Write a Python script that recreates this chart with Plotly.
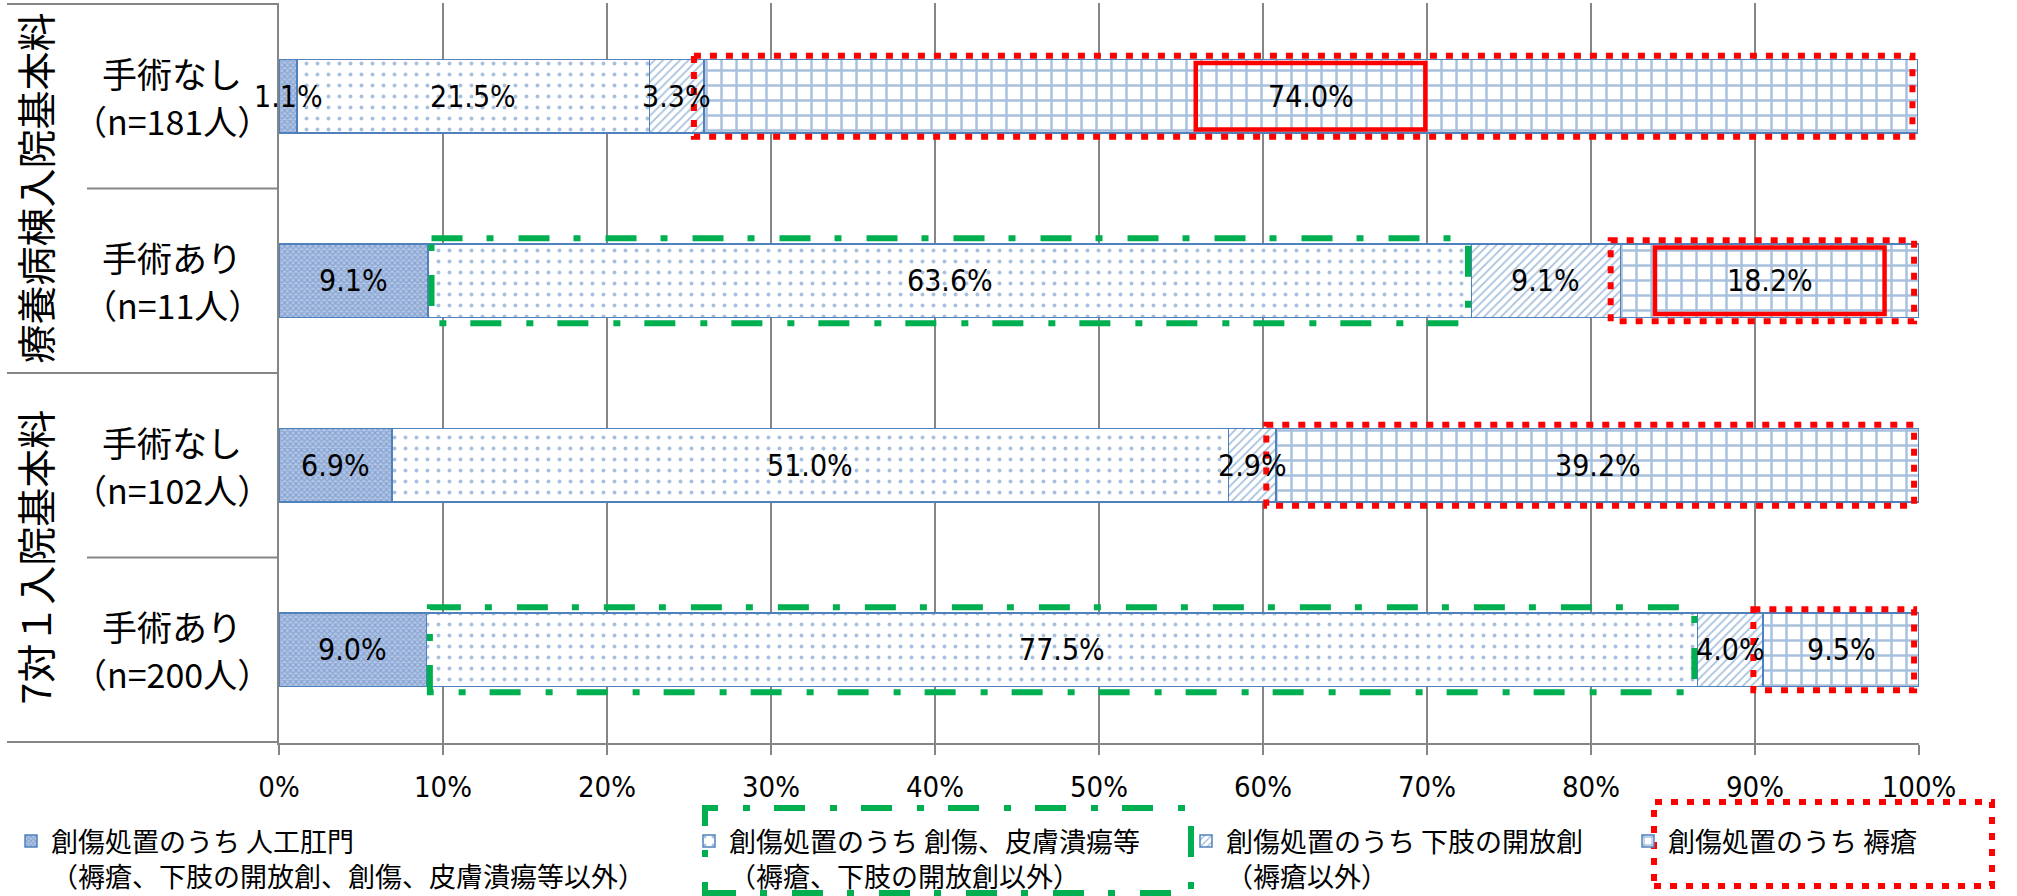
import plotly.graph_objects as go

# ---------------- data ----------------
groups = ["療養病棟入院基本料", "療養病棟入院基本料", "7対１入院基本料", "7対１入院基本料"]
surgery = ["手術なし", "手術あり", "手術なし", "手術あり"]
n_labels = ["（n=181人）", "（n=11人）", "（n=102人）", "（n=200人）"]
categories = [f"{g}／{s}" for g, s in zip(groups, surgery)]

series_names = [
    "創傷処置のうち 人工肛門<br>（褥瘡、下肢の開放創、創傷、皮膚潰瘍等以外）",
    "創傷処置のうち 創傷、皮膚潰瘍等<br>（褥瘡、下肢の開放創以外）",
    "創傷処置のうち 下肢の開放創<br>（褥瘡以外）",
    "創傷処置のうち 褥瘡",
]
stoma = [1.1, 9.1, 6.9, 9.0]
wound_ulcer = [21.5, 63.6, 51.0, 77.5]
leg_open = [3.3, 9.1, 2.9, 4.0]
pressure = [74.0, 18.2, 39.2, 9.5]
series_values = [stoma, wound_ulcer, leg_open, pressure]

label_box_rows = [0, 1]      # rows whose 褥瘡 label is boxed in solid red
green_rows = [1, 3]          # rows whose 創傷、皮膚潰瘍等 segment is boxed in green

# ---------------- geometry / style ----------------
W, H = 2017, 896
ML, MR, MT, MB = 279, 98, 3, 153
PW, PH = W - ML - MR, H - MT - MB
FONT = "DejaVu Sans Condensed, Noto Sans CJK JP, sans-serif"
CJK = "Noto Sans CJK JP, DejaVu Sans Condensed, sans-serif"
BLUE = "#4F81BD"
GRAY = "#868686"
RED = "#FF0000"
GREEN = "#00B050"


def px_x(px):
    return (px - ML) / PW


def px_y(py):
    return (MT + PH - py) / PH


patterns = [
    dict(shape="x", size=4, solidity=0.5, fgcolor="#5A80BE", bgcolor="#B3C6E5"),
    dict(shape=".", size=11, solidity=0.1, fgcolor=BLUE, bgcolor="white"),
    dict(shape="/", size=6, solidity=0.3, fgcolor=BLUE, bgcolor="white"),
    dict(shape="+", size=15, solidity=0.3, fgcolor=BLUE, bgcolor="white"),
]
legend_ids = ["legend", "legend2", "legend3", "legend4"]

fig = go.Figure()
for name, vals, pat, lid in zip(series_names, series_values, patterns, legend_ids):
    fig.add_trace(go.Bar(
        y=categories, x=vals, orientation="h", name=name,
        marker=dict(color=pat["bgcolor"], line=dict(color=BLUE, width=1.5), pattern=pat),
        textposition="none",
        legend=lid, hoverinfo="x+name",
    ))

shapes = []
annotations = []

# data labels at the centre of each segment
for j, cat in enumerate(categories):
    acc = 0.0
    for vals in series_values:
        v = vals[j]
        annotations.append(dict(xref="x", yref="y", x=acc + v / 2, y=cat, text=f"{v:.1f}%",
                                showarrow=False, xanchor="center", yanchor="middle",
                                font=dict(family=FONT, size=30, color="black")))
        acc += v

# category table lines on the left
for b in range(len(categories) + 1):
    y = b - 0.5
    if b == 0 or b == len(categories) or groups[b] != groups[b - 1]:
        x0 = px_x(7)
    else:
        x0 = px_x(87)
    shapes.append(dict(type="line", xref="paper", yref="y", x0=x0, x1=0, y0=y, y1=y,
                       line=dict(color=GRAY, width=2), layer="above"))

# category labels
for i, cat in enumerate(categories):
    annotations.append(dict(xref="paper", yref="y", x=px_x(172), y=i, text=surgery[i],
                            yshift=24, showarrow=False, xanchor="center", yanchor="middle",
                            font=dict(family=CJK, size=35, color="black")))
    annotations.append(dict(xref="paper", yref="y", x=px_x(172), y=i, text=n_labels[i],
                            yshift=-24, showarrow=False, xanchor="center", yanchor="middle",
                            font=dict(family=CJK, size=34, color="black")))

# group labels (vertical)
seen = []
for g in groups:
    if g not in seen:
        seen.append(g)
for g in seen:
    idx = [i for i, gg in enumerate(groups) if gg == g]
    annotations.append(dict(xref="paper", yref="y", x=px_x(33), y=sum(idx) / len(idx), text=g,
                            textangle=-90, showarrow=False, xanchor="center", yanchor="middle",
                            font=dict(family=CJK, size=39, color="black")))

# highlight boxes derived from the data
for i in range(len(categories)):
    start4 = stoma[i] + wound_ulcer[i] + leg_open[i]
    end4 = start4 + pressure[i]
    shapes.append(dict(type="rect", xref="x", yref="y", x0=start4 - 0.6, x1=end4 - 0.3,
                       y0=i - 0.22, y1=i + 0.22,
                       line=dict(color=RED, width=6, dash="7px,9px")))
    if i in label_box_rows:
        c = start4 + pressure[i] / 2
        shapes.append(dict(type="rect", xref="x", yref="y", x0=c - 7, x1=c + 7,
                           y0=i - 0.18, y1=i + 0.18, line=dict(color=RED, width=4.5)))
    if i in green_rows:
        shapes.append(dict(type="rect", xref="x", yref="y", x0=stoma[i] + 0.2,
                           x1=stoma[i] + wound_ulcer[i] - 0.2, y0=i - 0.23, y1=i + 0.23,
                           line=dict(color=GREEN, width=6, dash="31px,24px,7px,25px")))

# legend highlight boxes
shapes.append(dict(type="rect", xref="paper", yref="paper", x0=px_x(705), x1=px_x(1191),
                   y0=px_y(893), y1=px_y(808),
                   line=dict(color=GREEN, width=6, dash="31px,24px,7px,25px")))
shapes.append(dict(type="rect", xref="paper", yref="paper", x0=px_x(1654), x1=px_x(1992),
                   y0=px_y(886), y1=px_y(802),
                   line=dict(color=RED, width=6, dash="7px,9px")))

legend_left_px = [11, 689, 1186, 1628]
legend_top_px = 817
layout_legends = {}
for lid, lx in zip(legend_ids, legend_left_px):
    layout_legends[lid] = dict(
        x=lx / W, y=(H - legend_top_px) / H, xref="container", yref="container",
        xanchor="left", yanchor="top", orientation="h", valign="top",
        bgcolor="rgba(0,0,0,0)", borderwidth=0,
        font=dict(family=CJK, size=27, color="black"),
    )

fig.update_layout(
    width=W, height=H,
    margin=dict(l=ML, r=MR, t=MT, b=MB, pad=0),
    barmode="stack", bargap=0.6,
    plot_bgcolor="white", paper_bgcolor="white",
    font=dict(family=FONT, color="black"),
    xaxis=dict(range=[0, 100], tick0=0, dtick=10, ticksuffix="%",
               showgrid=True, gridcolor=GRAY, gridwidth=1.5, zeroline=False,
               showline=True, linecolor=GRAY, linewidth=2,
               ticks="outside", ticklen=10, tickcolor=GRAY, tickwidth=1.5,
               tickfont=dict(family=FONT, size=29, color="black"),
               ticklabelstandoff=7, fixedrange=True),
    yaxis=dict(type="category", categoryorder="array", categoryarray=categories,
               autorange="reversed", showticklabels=False, showgrid=False,
               showline=True, linecolor=GRAY, linewidth=2, ticks="", zeroline=False,
               fixedrange=True),
    shapes=shapes, annotations=annotations,
    showlegend=True,
    **layout_legends,
)

fig.write_html(
    "out.html",
    config={"displayModeBar": False},
    post_script="document.body.style.margin='0';document.body.style.overflow='hidden';",
)
